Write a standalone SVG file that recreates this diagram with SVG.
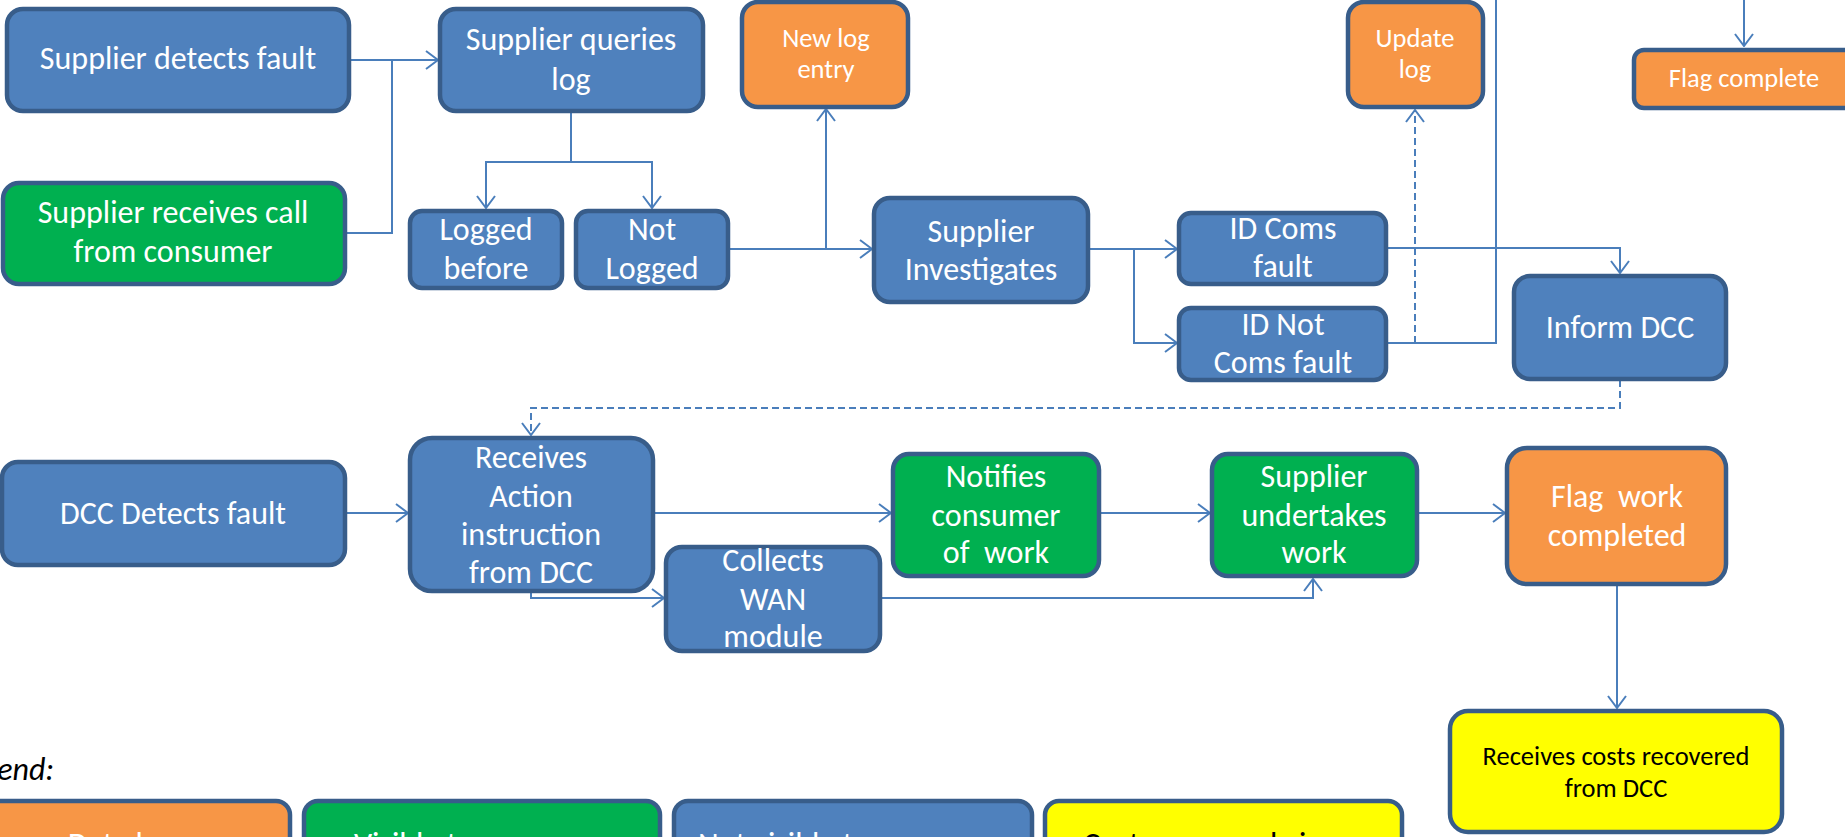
<svg xmlns="http://www.w3.org/2000/svg" width="1845" height="837" viewBox="0 0 1845 837">
<style>
.n rect{stroke:#385D8A;stroke-width:4.5}
.b rect{fill:#4F81BD}
.g rect{fill:#00B050}
.o rect{fill:#F79646}
.y rect{fill:#FFFF00}
text{font-family:Carlito,Lato,"Liberation Sans",sans-serif;text-anchor:middle;fill:#fff;font-size:32px}
.s text{font-size:26.5px}
.y text{fill:#000}
.c path{fill:none;stroke:#4A7EBB;stroke-width:2}
.c .d{stroke-dasharray:7,4}
.lg{font-style:italic;fill:#000;text-anchor:end}
</style>
<defs>
<marker id="a" viewBox="0 0 14 20" refX="13" refY="10" markerWidth="14" markerHeight="20" markerUnits="userSpaceOnUse" orient="auto">
<path d="M1,1 L13,10 L1,19" fill="none" stroke="#4A7EBB" stroke-width="2"/>
</marker>
</defs>
<rect width="1845" height="837" fill="#fff"/>

<g class="c" id="connectors">
<path d="M349,60 H438" marker-end="url(#a)"/>
<path d="M345,233 H392 V60"/>
<path d="M571,112 V162 H486 V208" marker-end="url(#a)"/>
<path d="M571,162 H652 V208" marker-end="url(#a)"/>
<path d="M728,249 H872" marker-end="url(#a)"/>
<path d="M826,249 V109" marker-end="url(#a)"/>
<path d="M1088,249 H1177" marker-end="url(#a)"/>
<path d="M1134,249 V343 H1177" marker-end="url(#a)"/>
<path d="M1386,248 H1620 V273" marker-end="url(#a)"/>
<path d="M1386,343 H1496 V-10"/>
<path class="d" d="M1415,343 V110" marker-end="url(#a)"/>
<path d="M1744,-10 V46" marker-end="url(#a)"/>
<path class="d" d="M1620,380 V408 H531 V435" marker-end="url(#a)"/>
<path d="M345,513 H408" marker-end="url(#a)"/>
<path d="M653,513 H891" marker-end="url(#a)"/>
<path d="M531,592 V598 H664" marker-end="url(#a)"/>
<path d="M1099,513 H1210" marker-end="url(#a)"/>
<path d="M880,598 H1313 V579" marker-end="url(#a)"/>
<path d="M1417,513 H1505" marker-end="url(#a)"/>
<path d="M1617,585 V708" marker-end="url(#a)"/>
</g>

<g id="n1" class="n b"><rect x="7" y="9" width="342" height="102" rx="16"/><text x="178" y="69">Supplier detects fault</text></g>
<g id="n2" class="n g"><rect x="3" y="183" width="342" height="101" rx="16"/><text x="173" y="223">Supplier receives call</text><text x="173" y="262">from consumer</text></g>
<g id="n3" class="n b"><rect x="440" y="9" width="263" height="102" rx="16"/><text x="571" y="50">Supplier queries</text><text x="571" y="90">log</text></g>
<g id="n4" class="n o s"><rect x="742" y="2" width="166" height="105" rx="16"/><text x="826" y="47">New log</text><text x="826" y="78">entry</text></g>
<g id="n5" class="n b"><rect x="410" y="211" width="152" height="77" rx="12"/><text x="486" y="240">Logged</text><text x="486" y="279">before</text></g>
<g id="n6" class="n b"><rect x="576" y="211" width="152" height="77" rx="12"/><text x="652" y="240">Not</text><text x="652" y="279">Logged</text></g>
<g id="n7" class="n b"><rect x="874" y="198" width="214" height="104" rx="16"/><text x="981" y="242">Supplier</text><text x="981" y="280">Investigates</text></g>
<g id="n8" class="n b"><rect x="1179" y="213" width="207" height="71" rx="12"/><text x="1283" y="239">ID Coms</text><text x="1283" y="277">fault</text></g>
<g id="n9" class="n b"><rect x="1179" y="308" width="207" height="72" rx="12"/><text x="1283" y="335">ID Not</text><text x="1283" y="373">Coms fault</text></g>
<g id="n10" class="n o s"><rect x="1348" y="2" width="135" height="105" rx="16"/><text x="1415" y="47">Update</text><text x="1415" y="78">log</text></g>
<g id="n11" class="n o s"><rect x="1634" y="50" width="225" height="58" rx="10"/><text x="1744" y="87">Flag complete</text></g>
<g id="n12" class="n b"><rect x="1514" y="276" width="212" height="103" rx="16"/><text x="1620" y="338">Inform DCC</text></g>
<g id="n13" class="n b"><rect x="2" y="462" width="343" height="103" rx="16"/><text x="173" y="524">DCC Detects fault</text></g>
<g id="n14" class="n b"><rect x="410" y="438" width="243" height="153" rx="22"/><text x="531" y="468">Receives</text><text x="531" y="507">Action</text><text x="531" y="545">instruction</text><text x="531" y="583">from DCC</text></g>
<g id="n15" class="n b"><rect x="666" y="547" width="214" height="104" rx="16"/><text x="773" y="571">Collects</text><text x="773" y="610">WAN</text><text x="773" y="647">module</text></g>
<g id="n16" class="n g"><rect x="893" y="454" width="206" height="122" rx="16"/><text x="996" y="487">Notifies</text><text x="996" y="526">consumer</text><text x="996" y="563" xml:space="preserve">of  work</text></g>
<g id="n17" class="n g"><rect x="1212" y="454" width="205" height="122" rx="16"/><text x="1314" y="487">Supplier</text><text x="1314" y="526">undertakes</text><text x="1314" y="563">work</text></g>
<g id="n18" class="n o"><rect x="1507" y="448" width="219" height="136" rx="20"/><text x="1617" y="507" xml:space="preserve">Flag  work</text><text x="1617" y="546">completed</text></g>
<g id="n19" class="n y s"><rect x="1450" y="711" width="332" height="121" rx="18"/><text x="1616" y="765">Receives costs recovered</text><text x="1616" y="797">from DCC</text></g>

<g id="legend">
<text class="lg" x="54" y="780">Legend:</text>
<g id="l1" class="n o"><rect x="-30" y="801" width="320" height="100" rx="14"/><text x="68" y="855" style="text-anchor:start">Data log</text></g>
<g id="l2" class="n g"><rect x="304" y="801" width="356" height="100" rx="14"/><text x="482" y="855">Visible to consumer</text></g>
<g id="l3" class="n b"><rect x="674" y="801" width="358" height="100" rx="14"/><text x="852" y="855">Not visible to consumer</text></g>
<g id="l4" class="n y"><rect x="1045" y="801" width="357" height="100" rx="14"/><text x="1083" y="855" style="text-anchor:start">Cost recovered via</text></g>
</g>
</svg>
